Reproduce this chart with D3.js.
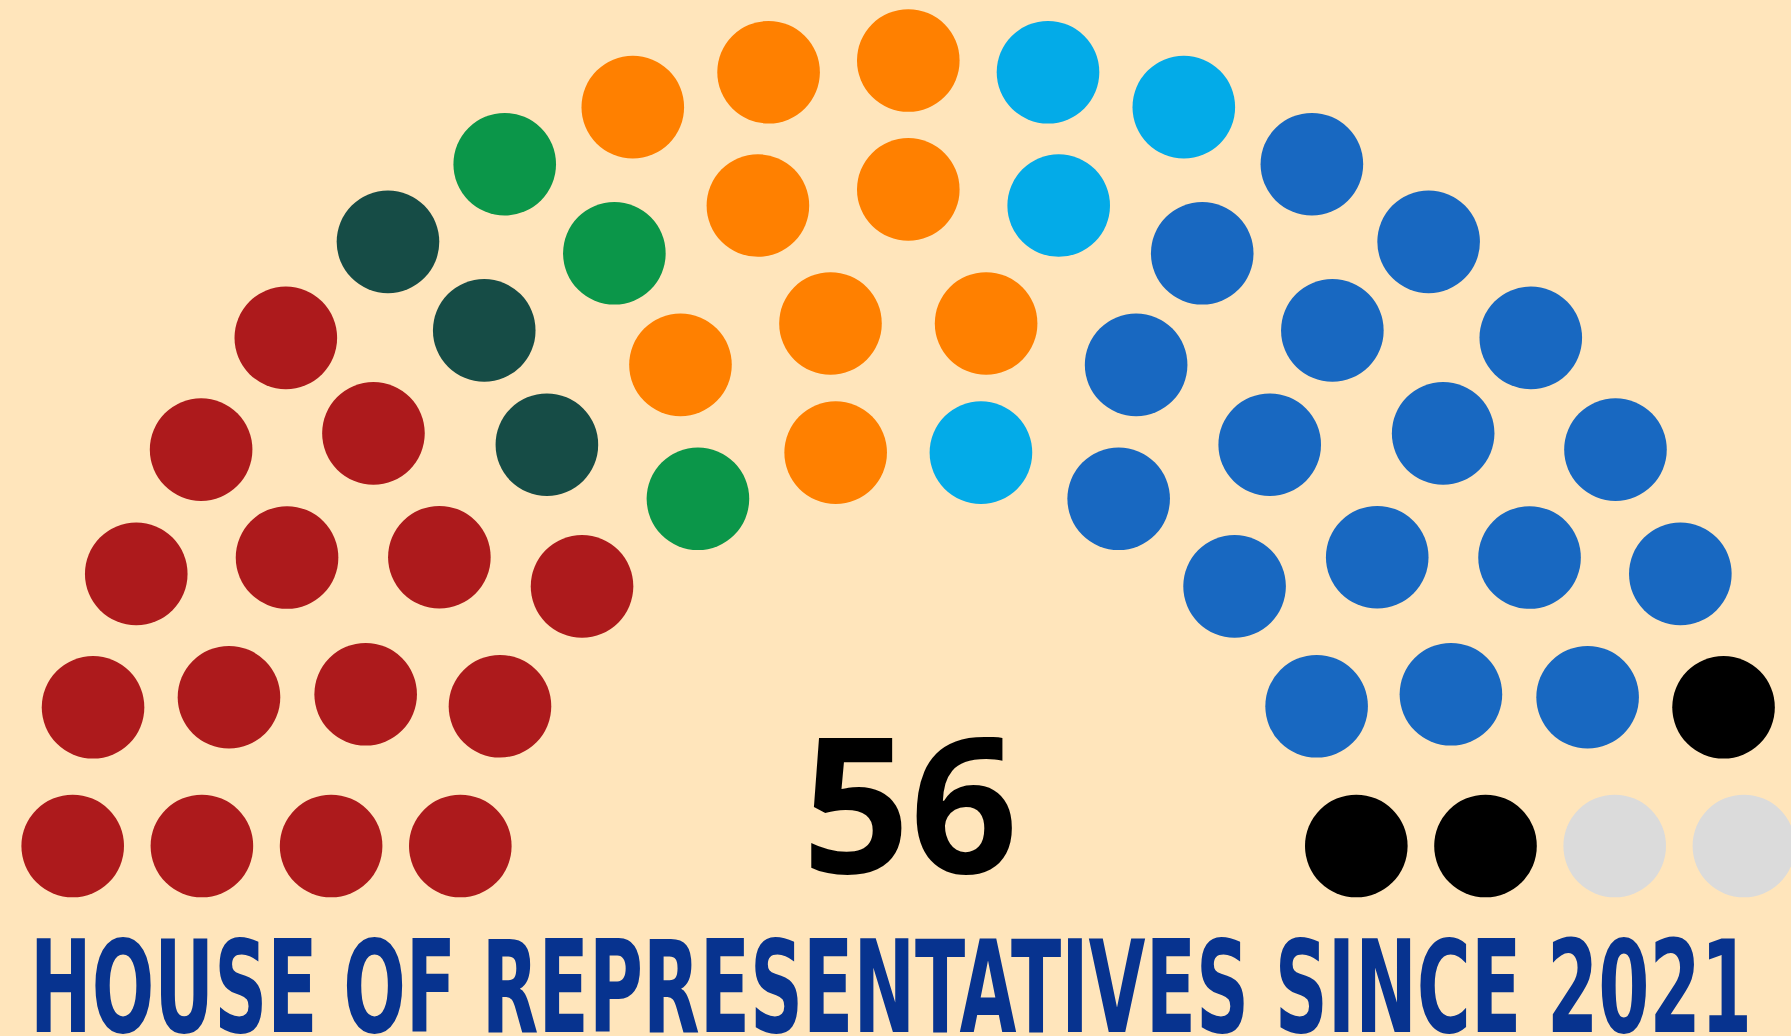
<!DOCTYPE html>
<html>
<head>
<meta charset="utf-8">
<script src="https://cdn.jsdelivr.net/npm/d3@7"></script>
<style>
  html, body { margin: 0; padding: 0; background: #ffe5bb; }
  svg { display: block; }
</style>
</head>
<body>
<div id="chart"></div>
<script>

// seats per party, left to right round the hemicycle
var partyKeys = ["red", "darkteal", "green", "orange", "lightblue", "blue", "black", "grey"];
var partySeats = [15, 3, 3, 9, 4, 17, 3, 2];
var partyColors = ["#ad1a1c", "#164c46", "#0b9649", "#ff8000", "#03abe8", "#1868c1", "#000000", "#dbdbdb"];

// seats in each ring, inner to outer
var rowSeats = [10, 12, 15, 19];

var totalLabel = "56";
var title = "HOUSE OF REPRESENTATIVES SINCE 2021";

var width = 1791, height = 1036;

var svg = d3.select("#chart").append("svg")
    .attr("width", width)
    .attr("height", height);

svg.append("rect")
    .attr("width", width)
    .attr("height", height)
    .attr("fill", "#ffe5bb");

// geometry of the hemicycle
var cx = 908.3, cy = 897.7;
var lift = 51.7;          // bottom row sits this far above the centre
var dotR = 51.3;

// ring index -> horizontal reach of its bottom seat
var reach = d3.scaleLinear()
    .domain([0, rowSeats.length - 1])
    .range([448, 835.6]);

var spots = [];
rowSeats.forEach(function(n, i) {
    var R = Math.sqrt(reach(i) * reach(i) + lift * lift);
    var a0 = Math.asin(lift / R);
    var ang = d3.scaleLinear().domain([0, n - 1]).range([Math.PI - a0, a0]);
    for (var j = 0; j < n; j++) {
        spots.push({ ring: i, r: R, angle: ang(j) });
    }
});

// sort by angle from the left, inner ring first on ties
spots.sort(function(a, b) {
    var d = b.angle - a.angle;
    if (Math.abs(d) > 1e-9) return d;
    return a.ring - b.ring;
});

var seatParty = [];
partySeats.forEach(function(n, p) {
    for (var k = 0; k < n; k++) seatParty.push(p);
});
spots.forEach(function(s, i) { s.party = seatParty[i]; });

var color = d3.scaleOrdinal()
    .domain(d3.range(partyKeys.length))
    .range(partyColors);

svg.append("g")
    .attr("class", "seats")
    .selectAll("circle")
    .data(spots)
    .join("circle")
    .attr("cx", function(d) { return cx + d.r * Math.cos(d.angle); })
    .attr("cy", function(d) { return cy - d.r * Math.sin(d.angle); })
    .attr("r", dotR)
    .attr("fill", function(d) { return color(d.party); });

svg.append("text")
    .attr("x", 910)
    .attr("y", 873)
    .attr("text-anchor", "middle")
    .attr("font-family", "'Noto Sans', 'Open Sans', sans-serif")
    .attr("font-weight", 700)
    .attr("font-size", 189)
    .attr("fill", "#000")
    .text(totalLabel);

// condensed title: squeeze a bold sans into the width of the picture
svg.append("text")
    .attr("x", 30)
    .attr("y", 1032)
    .attr("font-family", "'DejaVu Sans', sans-serif")
    .attr("font-weight", 700)
    .attr("font-size", 128)
    .attr("textLength", 1722)
    .attr("lengthAdjust", "spacingAndGlyphs")
    .attr("fill", "#07338f")
    .text(title);

</script>
</body>
</html>
